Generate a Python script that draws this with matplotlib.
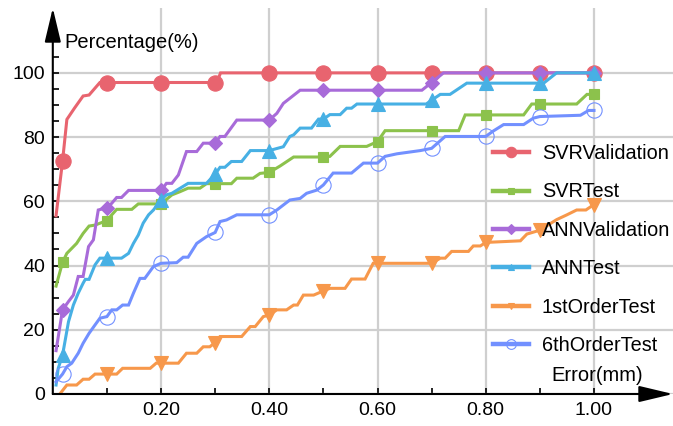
import numpy as np
import matplotlib
matplotlib.use('Agg')
import matplotlib.pyplot as plt
from matplotlib.lines import Line2D
from matplotlib.ticker import FixedLocator

plt.rcParams['font.family'] = ['Liberation Sans', 'DejaVu Sans']

# error (mm) / cumulative percentage, vertices
svr_val_x = [0.006, 0.018, 0.026, 0.040, 0.056, 0.067, 0.087, 0.1, 0.2, 0.3, 0.303, 0.31,
             0.4, 0.5, 0.6, 0.7, 0.8, 0.9, 1.0]
svr_val_y = [55.5, 72.5, 85.5, 89.0, 92.8, 93.1, 97.0, 97.0, 97.0, 97.0, 97.0, 100,
             100, 100, 100, 100, 100, 100, 100]

svr_test_x = [0.006, 0.018, 0.026, 0.044, 0.056, 0.067, 0.078, 0.1, 0.109, 0.118, 0.146, 0.158,
              0.186, 0.2, 0.22, 0.235, 0.25, 0.272, 0.284, 0.3, 0.33, 0.34, 0.37, 0.383, 0.4,
              0.42, 0.445, 0.5, 0.512, 0.531, 0.58, 0.6, 0.614, 0.7, 0.75, 0.762, 0.8, 0.87,
              0.885, 0.9, 0.968, 0.987, 1.0]
svr_test_y = [33.6, 41.0, 43.8, 46.9, 50.0, 52.3, 52.6, 54.0, 55.8, 57.5, 57.5, 59.2,
              59.2, 59.2, 62.0, 63.0, 64.1, 64.1, 65.5, 65.5, 65.5, 67.2, 67.2, 68.7, 69.0,
              71.0, 73.8, 73.8, 74.0, 77.1, 77.1, 78.6, 82.0, 82.0, 82.0, 86.9, 86.9, 86.9,
              90.3, 90.3, 90.3, 93.3, 93.3]

ann_val_x = [0.006, 0.018, 0.029, 0.038, 0.047, 0.056, 0.066, 0.075, 0.084, 0.1, 0.109, 0.118,
             0.127, 0.14, 0.2, 0.21, 0.22, 0.232, 0.247, 0.266, 0.278, 0.3, 0.309, 0.318,
             0.34, 0.4, 0.414, 0.426, 0.457, 0.5, 0.6, 0.682, 0.7, 0.722, 0.8, 0.9, 1.0]
ann_val_y = [13.5, 26.2, 28.8, 30.8, 36.6, 36.6, 45.9, 48.0, 57.3, 58.0, 59.4, 61.2,
             61.2, 63.4, 63.4, 65.6, 65.6, 68.2, 75.5, 75.5, 78.1, 78.1, 80.2, 80.2,
             85.3, 85.3, 87.4, 90.5, 94.6, 94.6, 94.6, 94.6, 97.0, 100, 100, 100, 100]

ann_test_x = [0.006, 0.01, 0.018, 0.029, 0.038, 0.047, 0.056, 0.06, 0.067, 0.078, 0.087, 0.1,
              0.127, 0.14, 0.149, 0.158, 0.167, 0.177, 0.186, 0.2, 0.21, 0.22, 0.25, 0.284,
              0.3, 0.309, 0.318, 0.33, 0.349, 0.365, 0.4, 0.426, 0.438, 0.445, 0.457, 0.478,
              0.491, 0.5, 0.512, 0.531, 0.543, 0.552, 0.562, 0.6, 0.69, 0.7, 0.716, 0.734,
              0.765, 0.8, 0.9, 0.907, 0.931, 1.0]
ann_test_y = [2.8, 8.0, 12.1, 22.5, 27.7, 31.4, 34.5, 35.7, 35.7, 40.2, 42.3, 42.3,
              42.3, 43.8, 46.9, 49.5, 53.2, 55.8, 57.3, 60.5, 62.0, 62.5, 65.6, 65.6,
              68.5, 70.6, 70.6, 72.4, 72.4, 75.8, 75.8, 77.0, 80.2, 80.7, 82.8, 82.8,
              85.6, 85.6, 87.0, 87.0, 89.0, 89.0, 90.3, 90.3, 90.3, 91.5, 93.3, 93.3,
              96.8, 96.8, 96.8, 96.8, 100, 100]

first_test_x = [0.013, 0.026, 0.044, 0.056, 0.067, 0.078, 0.1, 0.118, 0.129, 0.18, 0.191, 0.2,
                0.232, 0.247, 0.266, 0.278, 0.29, 0.3, 0.309, 0.349, 0.365, 0.374, 0.389, 0.4,
                0.414, 0.432, 0.445, 0.452, 0.463, 0.482, 0.5, 0.512, 0.54, 0.552, 0.577, 0.592,
                0.6, 0.7, 0.716, 0.725, 0.737, 0.768, 0.777, 0.79, 0.8, 0.864, 0.876, 0.9,
                0.913, 0.931, 0.95, 0.968, 0.985, 1.0]
first_test_y = [0.0, 2.8, 2.8, 4.6, 4.6, 6.2, 6.2, 6.2, 8.0, 8.0, 9.6, 9.6,
                9.6, 12.7, 12.7, 14.7, 14.7, 16.0, 17.9, 17.9, 21.0, 21.0, 24.1, 24.6,
                26.2, 26.2, 27.7, 27.7, 30.8, 30.8, 32.1, 32.9, 32.9, 35.8, 35.8, 40.7,
                40.7, 40.7, 42.3, 42.3, 44.4, 44.4, 46.1, 46.1, 47.2, 47.7, 49.8, 51.0,
                52.4, 54.3, 55.8, 57.3, 57.3, 59.0]

sixth_test_x = [0.006, 0.018, 0.026, 0.035, 0.047, 0.056, 0.067, 0.078, 0.087, 0.1, 0.109, 0.118,
                0.129, 0.14, 0.149, 0.161, 0.17, 0.186, 0.2, 0.229, 0.241, 0.25, 0.266, 0.284,
                0.3, 0.309, 0.321, 0.34, 0.389, 0.4, 0.414, 0.438, 0.457, 0.469, 0.488, 0.5,
                0.518, 0.552, 0.574, 0.6, 0.614, 0.636, 0.679, 0.7, 0.725, 0.8, 0.814, 0.833,
                0.87, 0.888, 0.9, 0.975, 0.99, 1.0]
sixth_test_y = [3.8, 6.2, 8.5, 9.6, 12.7, 15.8, 18.9, 21.5, 23.6, 24.1, 26.2, 26.2,
                27.7, 27.7, 31.4, 36.0, 36.0, 39.7, 40.7, 40.9, 42.6, 42.6, 46.9, 49.0,
                50.3, 53.7, 54.2, 55.8, 55.8, 55.8, 57.3, 60.4, 60.9, 62.5, 63.5, 65.1,
                68.8, 68.8, 71.9, 71.9, 74.0, 74.8, 75.8, 76.5, 80.2, 80.2, 81.9, 83.9,
                83.9, 85.9, 86.4, 86.8, 88.3, 88.3]

labels = ['SVRValidation', 'SVRTest', 'ANNValidation', 'ANNTest', '1stOrderTest', '6thOrderTest']
marker_x = [0.018, 0.1, 0.2, 0.3, 0.4, 0.5, 0.6, 0.7, 0.8, 0.9, 1.0]

series = [
    (svr_val_x, svr_val_y, '#e8646f', 'o', 11, 7.5, True),
    (svr_test_x, svr_test_y, '#8cc24c', 's', 7.5, 4.5, True),
    (ann_val_x, ann_val_y, '#a86bd9', 'D', 7.5, 5, True),
    (ann_test_x, ann_test_y, '#47b0e4', '^', 9.5, 5, True),
    (first_test_x, first_test_y, '#f7984b', 'v', 9.5, 5, True),
    (sixth_test_x, sixth_test_y, '#7290ff', 'o', 11, 7, False),
]

fig = plt.figure(figsize=(6.73, 4.26), dpi=100)
ax = fig.add_axes([52.8 / 673, 32 / 426, 1 - 52.8 / 673, 386 / 426])

handles = []
for (xs, ys, col, mk, ms, lms, filled), lab in zip(series, labels):
    xs = np.array(xs)
    idx = [int(np.argmin(abs(xs - m))) for m in marker_x if np.min(abs(xs - m)) < 1e-6]
    fc = col if filled else 'none'
    ax.plot(xs, ys, color=col, lw=2.2, marker=mk, ms=ms, markevery=idx,
            mfc=fc, mec=col, mew=0.8, solid_joinstyle='miter')
    handles.append(Line2D([], [], color=col, lw=3.2, marker=mk, ms=lms, mfc=fc, mec=col, mew=0.8))

ax.set_xlim(0, 1.146)
ax.set_ylim(0, 120.2)
for s in ax.spines.values():
    s.set_visible(False)

ax.xaxis.set_major_locator(FixedLocator([0.2, 0.4, 0.6, 0.8, 1.0]))
ax.xaxis.set_minor_locator(FixedLocator([0.1, 0.3, 0.5, 0.7, 0.9]))
ax.yaxis.set_major_locator(FixedLocator([0, 20, 40, 60, 80, 100]))
ax.yaxis.set_minor_locator(FixedLocator([v for v in range(5, 106, 5) if v % 20]))
ax.set_xticklabels(['0.20', '0.40', '0.60', '0.80', '1.00'])
ax.tick_params(which='both', direction='in', length=4, width=1.2, color='black',
               labelsize=14)
ax.tick_params(axis='x', pad=6)
ax.tick_params(axis='y', pad=5.5)
ax.grid(True, which='major', color='#cfcfcf', lw=1.6)
ax.set_axisbelow(True)

arrow = dict(arrowstyle='-|>,head_length=2.1,head_width=0.5', color='black', lw=1.5,
             shrinkA=0, shrinkB=0, mutation_scale=10)
ax.annotate('', xy=(1, 0), xytext=(0, 0), xycoords='axes fraction', arrowprops=arrow)
ax.annotate('', xy=(0, 1), xytext=(0, 0), xycoords='axes fraction', arrowprops=arrow)

ax.text(0.022, 109.5, 'Percentage(%)', fontsize=14.5, ha='left', va='center')
ax.text(0.921, 5.9, 'Error(mm)', fontsize=14.5, ha='left', va='center')

fig.legend(handles, labels, loc='upper left', bbox_to_anchor=(493 / 673, 1 - 144 / 426),
           frameon=False, fontsize=14.3, handlelength=1.8, handletextpad=0.65,
           labelspacing=0.98, borderpad=0, borderaxespad=0)

fig.savefig('out.png', dpi=100)
